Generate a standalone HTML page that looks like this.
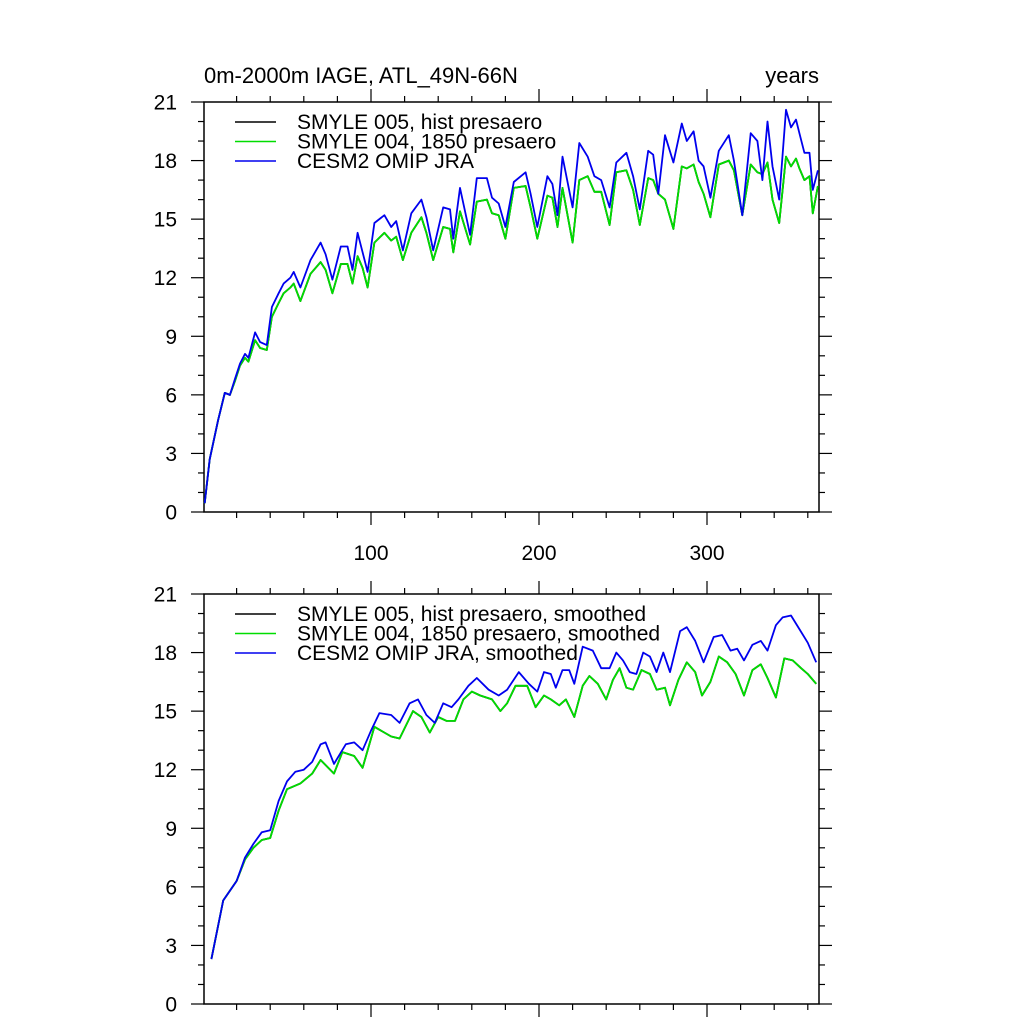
<!DOCTYPE html>
<html><head><meta charset="utf-8"><style>
body{margin:0;background:#fff}
svg text{font-family:"Liberation Sans",sans-serif;fill:#000}
</style></head><body>
<svg id="c" width="1024" height="1024" xmlns="http://www.w3.org/2000/svg">
<text x="204" y="83" font-size="22">0m-2000m IAGE, ATL_49N-66N</text>
<text x="819" y="83" font-size="22" text-anchor="end">years</text>
</svg>
<script>
const topX=[1,4,9,13,16,19,22,25,27,31,34,38,41,45,48,52,54,58,64,70,73,77,82,86,89,92,95,98,102,108,112,115,119,124,130,133,137,143,147,149,153,159,163,169,172,176,180,185,192,195,199,205,208,211,214,220,224,229,233,237,242,246,252,256,260,265,268,271,275,280,285,288,292,295,298,302,307,313,316,321,326,330,333,336,339,343,347,350,353,355,358,361,363,366];
const topBlue=[0.45,2.7,4.7,6.1,6.0,6.8,7.6,8.1,7.9,9.2,8.7,8.55,10.5,11.2,11.7,12.0,12.3,11.5,12.9,13.8,13.2,11.9,13.6,13.6,12.4,14.3,13.3,12.3,14.8,15.2,14.6,14.9,13.4,15.3,16.0,15.1,13.4,15.6,15.5,14.0,16.6,14.2,17.1,17.1,16.1,15.8,14.6,16.9,17.4,16.3,14.6,17.2,16.8,15.2,18.2,15.6,18.9,18.2,17.2,17.0,15.6,17.9,18.4,17.2,15.5,18.5,18.3,16.3,19.3,17.9,19.9,19.0,19.5,18.0,17.7,16.1,18.5,19.3,18.0,15.2,19.4,19.0,17.0,20.0,17.7,16.0,20.6,19.7,20.1,19.4,18.4,18.4,16.5,17.5];
const topGreen=[0.45,2.7,4.7,6.1,6.0,6.7,7.5,7.9,7.7,8.8,8.4,8.3,10.0,10.7,11.2,11.5,11.7,10.8,12.2,12.8,12.4,11.2,12.7,12.7,11.7,13.1,12.5,11.5,13.8,14.3,13.9,14.1,12.9,14.3,15.1,14.3,12.9,14.6,14.5,13.3,15.4,13.7,15.9,16.0,15.3,15.2,14.0,16.6,16.7,15.6,14.0,16.2,16.1,14.6,16.6,13.8,17.0,17.2,16.4,16.4,14.7,17.4,17.5,16.5,14.7,17.1,17.0,16.3,16.0,14.5,17.7,17.6,17.8,16.9,16.3,15.1,17.8,18.0,17.5,15.2,17.8,17.4,17.3,17.9,16.0,14.8,18.2,17.7,18.1,17.6,17.0,17.2,15.3,16.7];
const topBlack=topGreen.slice();
const smX=[5,12,20,25,30,35,40,45,50,55,60,65,70,73,78,85,90,95,100,105,112,117,123,128,133,138,143,148,152,158,163,170,176,181,188,194,199,203,207,210,214,218,221,226,232,237,242,246,250,254,258,262,266,270,274,278,284,288,293,298,304,309,314,318,322,327,332,336,341,345,350,355,360,365];
const smBlue=[2.3,5.3,6.3,7.5,8.2,8.8,8.9,10.4,11.4,11.9,12.0,12.4,13.3,13.4,12.3,13.3,13.4,13.0,14.0,14.9,14.8,14.4,15.4,15.6,14.8,14.4,15.4,15.2,15.6,16.3,16.7,16.1,15.8,16.1,17.0,16.4,16.0,17.0,16.9,16.2,17.1,17.1,16.4,18.3,18.1,17.2,17.2,18.0,17.6,17.0,16.9,18.0,17.8,17.0,18.0,17.0,19.1,19.3,18.6,17.5,18.8,18.9,18.1,18.2,17.6,18.4,18.6,18.1,19.4,19.8,19.9,19.2,18.5,17.5];
const smGX=[5,12,20,25,30,35,40,45,50,58,65,70,78,83,90,95,102,112,117,125,130,135,140,145,150,155,160,165,172,177,181,186,193,198,203,207,212,216,221,226,230,235,240,244,248,252,256,261,266,270,275,278,283,288,293,297,302,307,312,317,322,327,332,336,341,346,351,356,360,365];
const smGreen=[2.3,5.3,6.3,7.4,8.0,8.4,8.5,9.9,11.0,11.3,11.8,12.5,11.8,12.9,12.7,12.1,14.2,13.7,13.6,15.0,14.7,13.9,14.7,14.5,14.5,15.6,16.0,15.8,15.6,15.0,15.4,16.3,16.3,15.2,15.8,15.6,15.3,15.6,14.7,16.3,16.8,16.4,15.6,16.6,17.2,16.2,16.1,17.1,16.9,16.1,16.2,15.3,16.6,17.5,17.0,15.8,16.5,17.8,17.5,16.9,15.8,17.1,17.4,16.7,15.7,17.7,17.6,17.2,16.9,16.4];
const smBlack=smGreen.slice();

const svg=document.getElementById('c');
const NS='http://www.w3.org/2000/svg';
const L=204,R=819;
const GREEN='#00dd00',BLUE='#0000ee';
function sx(u){return 203+u*1.68;}
function mk(tag,attrs){const e=document.createElementNS(NS,tag);for(const k in attrs)e.setAttribute(k,attrs[k]);svg.appendChild(e);return e;}
function line(x1,y1,x2,y2,name){const e=mk('line',{x1,y1,x2,y2,stroke:'#000','stroke-width':1.2});

}
function panel(T,B,xl,series,legend,pname){
  const sy=v=>B-v*(B-T)/21;
  const f=mk('rect',{x:L,y:T,width:R-L,height:B-T,fill:'none',stroke:'#000','stroke-width':1.5});
  
  
  for(let v=0;v<=21;v++){const maj=v%3===0,len=maj?13:6,y=sy(v);
    line(L-len,y,L,y,pname+'-y-tick');line(R,y,R+len,y,pname+'-y-tick');
    if(maj){const t=mk('text',{x:177,y:y+7.5,'font-size':21,'text-anchor':'end'});t.textContent=v;
      
      }}
  for(let u=20;u<=366;u+=20){const maj=u%100===0,len=maj?13:6,x=sx(u);
    line(x,B,x,B+len,pname+'-x-tick');line(x,T-len,x,T,pname+'-x-tick');
    if(maj&&xl){const t=mk('text',{x:x,y:B+48,'font-size':21,'text-anchor':'middle'});t.textContent=u;
      
      }}
  series.forEach(s=>{const d=s.x.map((u,i)=>(i?'L':'M')+sx(u).toFixed(1)+','+sy(s.v[i]).toFixed(1)).join('');
    const p=mk('path',{d,fill:'none',stroke:s.c,'stroke-width':1.8,'stroke-linejoin':'round'});
    
    });
  legend.forEach((g,i)=>{const y=T+20+i*19.5;
    const l=mk('line',{x1:235,y1:y,x2:276,y2:y,stroke:g.c,'stroke-width':1.6});
    
    
    const t=mk('text',{x:297,y:y+7,'font-size':21});t.textContent=g.t;
    
    });
}
panel(102,512,true,[
  {x:topX,v:topBlack,c:'#000',n:'smyle005-line'},
  {x:topX,v:topGreen,c:GREEN,n:'smyle004-line'},
  {x:topX,v:topBlue,c:BLUE,n:'cesm2-omip-line'}],
  [{c:'#000',t:'SMYLE 005, hist presaero'},{c:GREEN,t:'SMYLE 004, 1850 presaero'},{c:BLUE,t:'CESM2 OMIP JRA'}],'top-panel');
panel(594,1004,false,[
  {x:smGX,v:smBlack,c:'#000',n:'smyle005-smoothed-line'},
  {x:smGX,v:smGreen,c:GREEN,n:'smyle004-smoothed-line'},
  {x:smX,v:smBlue,c:BLUE,n:'cesm2-omip-smoothed-line'}],
  [{c:'#000',t:'SMYLE 005, hist presaero, smoothed'},{c:GREEN,t:'SMYLE 004, 1850 presaero, smoothed'},{c:BLUE,t:'CESM2 OMIP JRA, smoothed'}],'bottom-panel');
</script>
</body></html>
